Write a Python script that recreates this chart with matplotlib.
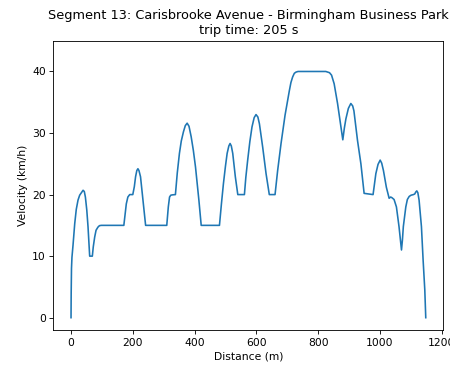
import matplotlib
matplotlib.use("Agg")
import matplotlib.pyplot as plt

distance_m = [0, 0.5, 1.5, 3, 6.5, 12, 17, 22.6, 28, 33.6, 39, 43, 46.5, 51, 55, 60.4, 69,
              72, 76.6, 81, 87, 92, 98, 171,
              175, 179, 184, 190, 200, 205, 209, 213, 216.6, 220, 225, 233, 241.5,
              310, 315, 319, 323, 327.7, 338,
              344, 351, 357, 364, 370, 376, 382, 389, 396, 403, 414, 421.5,
              480.6, 487, 493.5, 500, 505.5, 511, 515, 519, 523.6, 532, 540,
              561.4, 566, 572, 579, 586, 593, 599, 605, 610, 620.6, 631.5, 642,
              660.6, 669, 680, 693, 707, 712, 717.5, 723, 728.5, 735,
              825, 830.7, 837, 843.6, 852, 863, 874, 880, 885, 890, 898, 906, 912,
              916, 927.6, 938.6, 949, 978, 982, 987, 994, 1001, 1006, 1011.6,
              1021, 1030, 1035, 1039, 1046, 1053.6, 1062, 1067, 1070, 1073, 1076,
              1084, 1089, 1095, 1101, 1108.6, 1113, 1116, 1119.6, 1123, 1127,
              1134.6, 1140, 1145.5, 1148.6]
velocity_kmh = [0, 4.0, 8.0, 9.8, 11.8, 15.3, 17.6, 19.1, 19.9, 20.3, 20.7, 20.5, 19.6,
                17.5, 14.8, 10.0, 10.0, 11.5, 13.1, 14.2, 14.7, 14.95, 15.0, 15.0,
                16.8, 18.5, 19.6, 20.0, 20.0, 21.3, 22.9, 23.9, 24.2, 23.9, 22.9,
                19.1, 15.0, 15.0, 18.0, 19.6, 19.9, 19.95, 20.0,
                23.5, 26.7, 28.7, 30.2, 31.2, 31.6, 31.1, 29.4, 27.2, 24.5, 19.1,
                15.0, 15.0, 18.5, 21.8, 24.6, 26.7, 27.9, 28.3, 27.9, 26.7, 22.9,
                20.0, 20.0, 22.8, 25.6, 28.6, 31.0, 32.5, 33.0, 32.6, 31.5, 27.7,
                23.4, 20.0, 20.0, 23.9, 28.3, 32.9, 36.9, 38.2, 39.1, 39.7, 39.9,
                40.0, 40.0, 39.9, 39.8, 39.4, 38.0, 34.8, 31.0, 28.9, 30.8, 32.3,
                34.0, 34.8, 34.4, 33.6, 28.8, 25.0, 20.2, 20.0, 21.5, 23.4, 24.9,
                25.6, 25.1, 23.9, 21.2, 19.4, 19.6, 19.5, 19.2, 18.0, 14.8, 12.5,
                11.0, 12.6, 14.8, 18.0, 19.2, 19.7, 19.9, 20.0, 20.1, 20.4, 20.6,
                20.3, 19.1, 14.8, 9.4, 4.5, 0.0]

title = "Segment 13: Carisbrooke Avenue - Birmingham Business Park\ntrip time: 205 s"

dpi = 77.5
fig = plt.figure(figsize=(450 / dpi, 366 / dpi), dpi=dpi)
ax = fig.add_axes([53.3 / 450, 36 / 366, 390 / 450, 289.3 / 366])
ax.plot(distance_m, velocity_kmh, color="C0", linewidth=1.5)
ax.set_xlim(-57.4, 1205.4)
ax.set_ylim(-2, 45)
ax.set_xticks([0, 200, 400, 600, 800, 1000, 1200])
ax.set_yticks([0, 10, 20, 30, 40])
ax.set_xlabel("Distance (m)")
ax.set_ylabel("Velocity (km/h)")
ax.set_title(title)
fig.savefig("out.png", dpi=dpi)
